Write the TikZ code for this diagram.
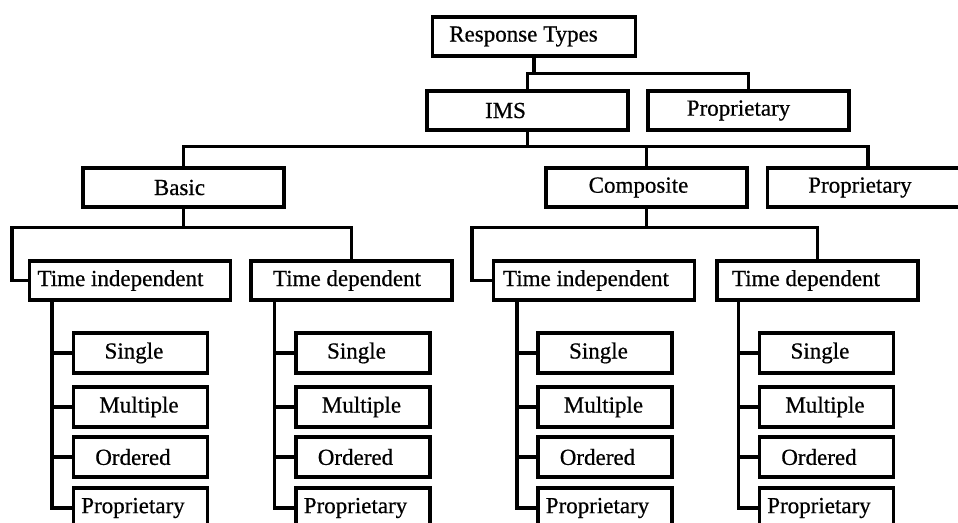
\documentclass[tikz,border=0pt]{standalone}
\usepackage{fontspec}
\setmainfont{Liberation Serif}[FakeBold=0.6]
\begin{document}
\begin{tikzpicture}[x=1pt,y=-1pt,
  box/.style={draw, line width=3.2pt, minimum height=39pt, inner sep=0pt,
    font=\fontsize{23}{25}\selectfont},
  wide/.style={box, minimum width=201pt},
  leaf/.style={box, minimum width=134pt, minimum height=40pt},
  conn/.style={line width=3.2pt}]
\useasboundingbox (0,0) rectangle (958,522);
\clip (0,0) rectangle (958,522);
% top levels
\node[box, minimum width=203pt] (rt) at (534,36.5) {Response Types\hspace*{21pt}};
\node[wide] (ims) at (527.5,110.5) {IMS\hspace*{44pt}};
\node[wide] (pr1) at (748.5,110.5) {Proprietary\hspace*{20pt}};
\node[wide] (basic) at (183.5,187.5) {Basic\hspace*{8pt}};
\node[wide] (comp) at (646.5,187.5) {Composite\hspace*{16pt}};
\node[wide] (pr2) at (868,187.5) {Proprietary\hspace*{16pt}};
\node[wide] (ti1) at (130,280.5) {Time independent\hspace*{19pt}};
\node[wide] (td1) at (351.5,280.5) {Time dependent\hspace*{9pt}};
\node[wide] (ti2) at (594,280.5) {Time independent\hspace*{16pt}};
\node[wide] (td2) at (817.5,280.5) {Time dependent\hspace*{23pt}};
% leaves
\foreach \c/\x in {a/140.5,b/363,c/605,d/826.5}{
  \node[leaf] (\c s) at (\x,353) {Single\hspace*{13pt}};
  \node[leaf] (\c m) at (\x,407) {Multiple\hspace*{3pt}};
  \node[leaf] (\c o) at (\x,457) {Ordered\hspace*{15pt}};
  \node[leaf] (\c p) at (\x,508) {Proprietary\hspace*{15pt}};
}
% connectors: level 1
\draw[conn] (ims.north) -- ++(0,-16) coordinate (bus1) -| (pr1.north);
\draw[conn] (rt.south) -- (rt.south |- bus1);
% level 2
\draw[conn] (basic.north) -- ++(0,-20) coordinate (bus2) -| (pr2.north);
\draw[conn] (ims.south) -- (ims.south |- bus2);
\draw[conn] (comp.north) -- (comp.north |- bus2);
% level 3
\draw[conn] (ti1.west) -- ++(-16,0) -- ++(0,-53) coordinate (bus3) -| (td1.north);
\draw[conn] (basic.south) -- (basic.south |- bus3);
\draw[conn] (ti2.west) -- ++(-20,0) -- ++(0,-53) coordinate (bus4) -| (td2.north);
\draw[conn] (comp.south) -- (comp.south |- bus4);
% leaves connectors
\foreach \p/\c/\d in {ti1/a/24,td1/b/25,ti2/c/25,td2/d/23}{
  \draw[conn] ([xshift=\d pt]\p.south west) |- (\c p.west);
  \draw[conn] (\c s.west) -- ++(-20,0);
  \draw[conn] (\c m.west) -- ++(-20,0);
  \draw[conn] (\c o.west) -- ++(-20,0);
}
\end{tikzpicture}
\end{document}
